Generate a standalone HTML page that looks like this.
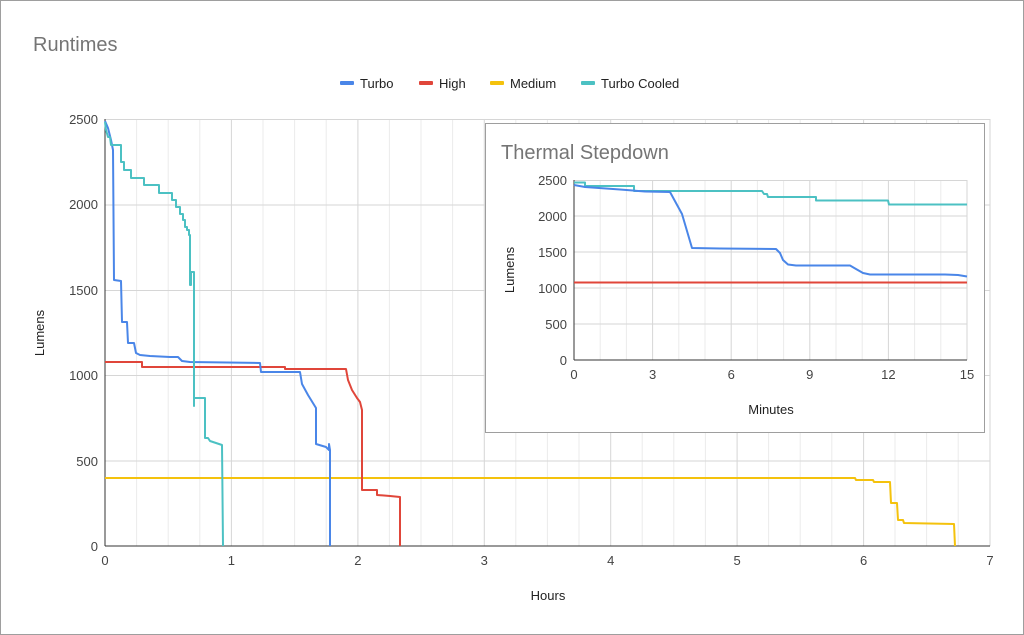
<!DOCTYPE html>
<html><head><meta charset="utf-8"><style>
body{margin:0;background:#fff}
svg{display:block;font-family:"Liberation Sans",Arial,sans-serif}
</style></head><body>
<svg width="1024" height="635" viewBox="0 0 1024 635">
<rect x="0.5" y="0.5" width="1023" height="634" fill="#fff" stroke="#9e9e9e"/>
<text x="33" y="51" font-size="20" fill="#757575">Runtimes</text>
<!-- legend -->
<g font-size="13" fill="#222">
<rect x="340" y="81" width="14" height="4" rx="1" fill="#4a86e8"/><text x="360" y="88">Turbo</text>
<rect x="419" y="81" width="14" height="4" rx="1" fill="#e0463a"/><text x="439" y="88">High</text>
<rect x="490" y="81" width="14" height="4" rx="1" fill="#f4c20d"/><text x="510" y="88">Medium</text>
<rect x="581" y="81" width="14" height="4" rx="1" fill="#4cc1c3"/><text x="601" y="88">Turbo Cooled</text>
</g>
<!-- main grid -->
<g stroke="#ebebeb" stroke-width="1">
<path d="M136.6 119V546M168.2 119V546M199.8 119V546M263 119V546M294.6 119V546M326.2 119V546M389.4 119V546M421 119V546M452.6 119V546M515.8 119V546M547.4 119V546M579 119V546M642.2 119V546M673.8 119V546M705.4 119V546M768.6 119V546M800.2 119V546M831.8 119V546M895 119V546M926.6 119V546M958.2 119V546"/>
</g>
<g stroke="#d6d6d6" stroke-width="1">
<path d="M231.4 119V546M357.9 119V546M484.3 119V546M610.7 119V546M737.1 119V546M863.6 119V546M990 119V546"/>
<path d="M105 119.5H990M105 205H990M105 290.5H990M105 375.5H990M105 461H990"/>
</g>
<line x1="105" y1="546" x2="990" y2="546" stroke="#333"/>
<line x1="105" y1="119" x2="105" y2="546" stroke="#333"/>
<g font-size="13" fill="#444" text-anchor="end">
<text x="98" y="124">2500</text><text x="98" y="209">2000</text><text x="98" y="295">1500</text><text x="98" y="380">1000</text><text x="98" y="466">500</text><text x="98" y="551">0</text>
</g>
<g font-size="13" fill="#444" text-anchor="middle">
<text x="105" y="565">0</text><text x="231.4" y="565">1</text><text x="357.9" y="565">2</text><text x="484.3" y="565">3</text><text x="610.7" y="565">4</text><text x="737.1" y="565">5</text><text x="863.6" y="565">6</text><text x="990" y="565">7</text>
</g>
<text x="548" y="600" font-size="13" fill="#222" text-anchor="middle">Hours</text>
<text transform="translate(44 333) rotate(-90)" font-size="13" fill="#222" text-anchor="middle">Lumens</text>
<!-- series -->
<g fill="none" stroke-width="2" stroke-linejoin="round">
<polyline stroke="#f4c20d" points="105,478 855,478 856,480 873,480 874,482 890,482 891,503 897,503 898,520 903,520 904,523 954,524 955,546"/>
<polyline stroke="#e0463a" points="105,362 142,362 142,367 285,367 285,369 346,369 348,380 352,390 357,398 360,402 362,410 362,490 377,490 377,495 390,496 400,497 400,546"/>
<polyline stroke="#4a86e8" points="105,121 108,128 111,140 113,150 114,280 121,281 122,322 127,322 128,343 134,343 136,353 140,355 150,356 170,357 178,357 182,361 190,362 260,363 261,372 300,372 302,384 308,395 316,408 316,444 326,447 329,450 329,444 330,450 330,546"/>
<polyline stroke="#4cc1c3" points="105,122 106,130 108,137 110,137 111,145 121,145 121,162 124,162 124,170 131,170 131,178 144,178 144,185 159,185 159,193 172,193 172,200 176,200 176,207 180,207 180,214 183,214 183,220 185,220 185,227 187,227 187,230 189,230 189,235 190,235 190,285 191,285 191,272 194,272 194,406 194,398 205,398 205,438 208,438 210,441 216,443 222,445 223,546"/>
</g>
<!-- inset -->
<rect x="485.5" y="123.5" width="499" height="309" fill="#fff" stroke="#9e9e9e"/>
<text x="501" y="159" font-size="20" fill="#757575">Thermal Stepdown</text>
<g stroke="#ebebeb">
<path d="M600.2 180V360M626.4 180V360M678.8 180V360M705 180V360M757.4 180V360M783.6 180V360M836 180V360M862.2 180V360M914.6 180V360M940.8 180V360"/>
</g>
<g stroke="#d6d6d6">
<path d="M652.6 180V360M731.2 180V360M809.8 180V360M888.4 180V360M967 180V360M574 180.5H967M574 216H967M574 252H967M574 288H967M574 324H967"/>
</g>
<line x1="574" y1="360" x2="967" y2="360" stroke="#333"/>
<line x1="574" y1="180" x2="574" y2="360" stroke="#333"/>
<g font-size="13" fill="#444" text-anchor="end">
<text x="567" y="185">2500</text><text x="567" y="221">2000</text><text x="567" y="257">1500</text><text x="567" y="293">1000</text><text x="567" y="329">500</text><text x="567" y="365">0</text>
</g>
<g font-size="13" fill="#444" text-anchor="middle">
<text x="574" y="379">0</text><text x="652.6" y="379">3</text><text x="731.2" y="379">6</text><text x="809.8" y="379">9</text><text x="888.4" y="379">12</text><text x="967" y="379">15</text>
</g>
<text x="771" y="414" font-size="13" fill="#222" text-anchor="middle">Minutes</text>
<text transform="translate(514 270) rotate(-90)" font-size="13" fill="#222" text-anchor="middle">Lumens</text>
<g fill="none" stroke-width="2" stroke-linejoin="round">
<polyline stroke="#e0463a" points="574,282.5 967,282.5"/>
<polyline stroke="#4cc1c3" points="574,182.5 585,182.5 585,186 634,186 634,191 762,191 764,194 767,194 768,197 816,197 816,200.5 888,200.5 889,204.5 967,204.5"/>
<polyline stroke="#4a86e8" points="574,185 585,187 620,189.5 645,191.5 670,192 682,214 692,248 720,248.5 776,249 780,253 783,260 788,264.5 796,265.5 850,265.5 856,269 863,273 870,274.5 945,274.5 958,275 967,276.5"/>
</g>
</svg>
</body></html>
